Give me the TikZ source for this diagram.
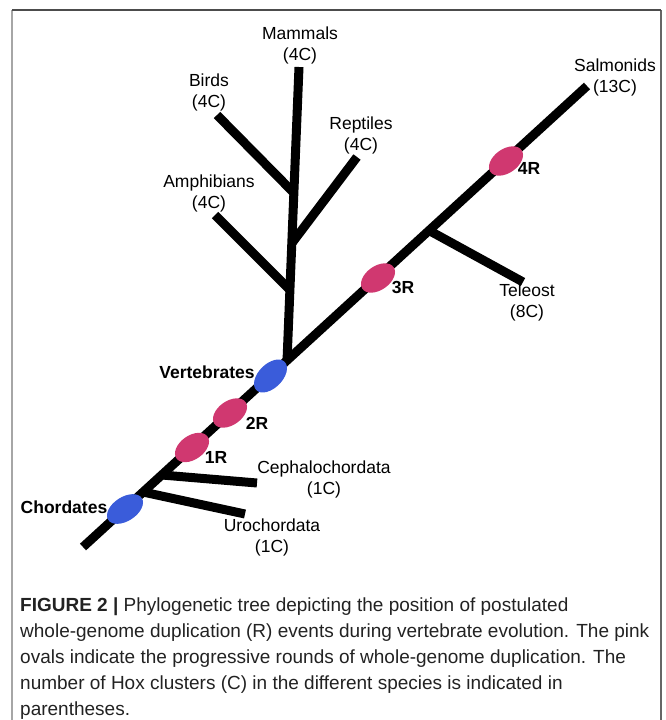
\documentclass[tikz,border=0pt]{standalone}
\usepackage{fontspec}
\setmainfont{Liberation Sans}
\usetikzlibrary{shapes.geometric}
\definecolor{wgdpink}{RGB}{208,56,112}
\definecolor{cladeblue}{RGB}{58,92,218}
\definecolor{captxt}{RGB}{34,34,34}
\begin{document}
\begin{tikzpicture}[x=1pt,y=-1pt,
 branch/.style={line width=9pt, black},
 lab/.style={font={\fontsize{17.5}{21}\selectfont}, align=center, inner sep=0pt},
 blab/.style={font={\fontsize{17.5}{21}\selectfont\bfseries}, align=center, inner sep=0pt},
 wgd/.style={ellipse, fill=wgdpink, minimum width=38pt, minimum height=24pt, inner sep=0pt, rotate=35},
 clade/.style={ellipse, fill=cladeblue, minimum width=40pt, minimum height=24pt, inner sep=0pt, rotate=33},
 capline/.style={anchor=base west, inner sep=0pt, text=captxt, font={\fontsize{19}{26}\selectfont}}]
\useasboundingbox (0,0) rectangle (666,720);
% frame
\coordinate (ftl) at (12,10);
\coordinate (ftr) at (661,10);
\coordinate (fbl) at (12,720);
\coordinate (fbr) at (661,720);
\draw[line width=2pt, black!35] (ftl) -- (fbl);
\draw[line width=1.5pt, black!60] (ftr) -- (fbr);
\draw[line width=1.5pt, black!70] (ftl) -- (ftr);
% trunk and branch points
\coordinate (root) at (83,547);
\coordinate (salm) at (587,86);
\coordinate (uroB) at (143,492);
\coordinate (uroE) at (245,514);
\coordinate (cepB) at (162,475);
\coordinate (cepE) at (257,483);
\coordinate (verB) at (287,361);
\coordinate (mamE) at (299,67);
\coordinate (amphB) at (290,290);
\coordinate (amphE) at (215,215);
\coordinate (birdB) at (293,192);
\coordinate (birdE) at (217,115);
\coordinate (repB) at (292,243);
\coordinate (repE) at (357,157);
\coordinate (telB) at (430,231);
\coordinate (telE) at (523,282);
\draw[branch] (root) -- (salm);
\draw[branch] (uroB) -- (uroE);
\draw[branch] (cepB) -- (cepE);
\draw[branch] (verB) -- (mamE);
\draw[branch] (amphB) -- (amphE);
\draw[branch] (birdB) -- (birdE);
\draw[branch] (repB) -- (repE);
\draw[branch] (telB) -- (telE);
% ovals
\node[clade] (chordO) at (125,509) {};
\node[wgd] (r1) at (192,447.5) {};
\node[wgd] (r2) at (230,413) {};
\node[clade, rotate=12] (vertO) at (270.5,376) {};
\node[wgd] (r3) at (378,278) {};
\node[wgd] (r4) at (506,161) {};
% labels
\node[lab] (salmL) at (615,77) {Salmonids\\(13C)};
\node[lab] (telL) at (527,302.5) {Teleost\\(8C)};
\node[blab] (r4L) at (529,168) {4R};
\node[blab] (r3L) at (403,287) {3R};
\node[blab] (r2L) at (257,423) {2R};
\node[blab] (r1L) at (216,457) {1R};
\node[blab] (vertL) at (207,372) {Vertebrates};
\node[blab] (chordL) at (64,507) {Chordates};
\node[lab] (cepL) at (324,479.5) {Cephalochordata\\(1C)};
\node[lab] (uroL) at (272,537.5) {Urochordata\\(1C)};
\node[lab] (mamL) at (300,45.5) {Mammals\\(4C)};
\node[lab] (birdL) at (209,92) {Birds\\(4C)};
\node[lab] (repL) at (361,135) {Reptiles\\(4C)};
\node[lab] (amphL) at (209,193) {Amphibians\\(4C)};
% caption
\node[capline] (cap1) at (20,611) {\textbf{FIGURE 2 |} Phylogenetic tree depicting the position of postulated};
\node[capline] (cap2) at (20,637) {whole-genome duplication (R) events during vertebrate evolution. The pink};
\node[capline] (cap3) at (20,663) {ovals indicate the progressive rounds of whole-genome duplication. The};
\node[capline] (cap4) at (20,689) {number of Hox clusters (C) in the different species is indicated in};
\node[capline] (cap5) at (20,715) {parentheses.};
\end{tikzpicture}
\end{document}
